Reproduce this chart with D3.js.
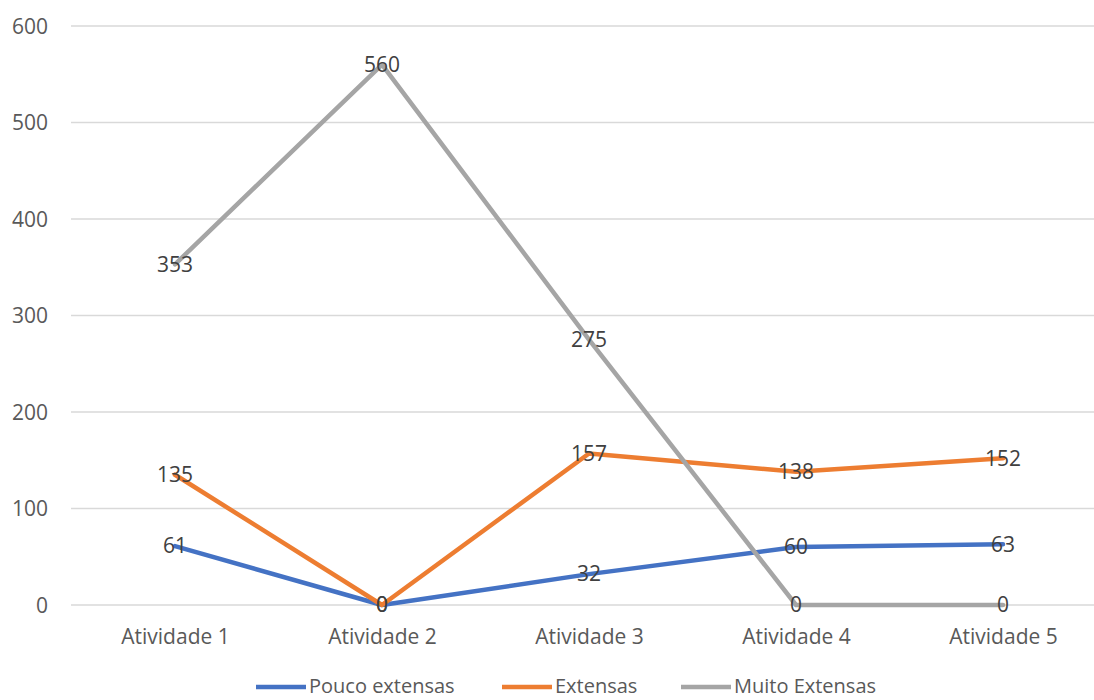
<!DOCTYPE html>
<html><head><meta charset="utf-8">
<script src="https://cdn.jsdelivr.net/npm/d3@7"></script>
<style>body{margin:0;background:#fff}svg{display:block}text{font-family:"Open Sans",sans-serif}</style>
</head><body><svg id="c" width="1094" height="700"></svg>
<script>
const categories = ["Atividade 1","Atividade 2","Atividade 3","Atividade 4","Atividade 5"];
const pouco = [61, 0, 32, 60, 63];
const extensas = [135, 0, 157, 138, 152];
const muito = [353, 560, 275, 0, 0];
const yTicks = [0,100,200,300,400,500,600];
const seriesNames = ["Pouco extensas","Extensas","Muito Extensas"];
const seriesColors = ["#4472C4","#ED7D31","#A5A5A5"];

const svg = d3.select("#c");
const x = d3.scalePoint().domain(categories).range([175,1003]);
const y = d3.scaleLinear().domain([0,600]).range([605,26]);

// gridlines
svg.append("g").selectAll("line").data(yTicks).join("line")
  .attr("x1",71).attr("x2",1094).attr("y1",d=>y(d)).attr("y2",d=>y(d))
  .attr("stroke","#d9d9d9").attr("stroke-width",1.3);

// y axis labels
const yAxis = svg.append("g").attr("transform","translate(48,0)")
  .call(d3.axisLeft(y).tickValues(yTicks).tickSize(0).tickPadding(0));
yAxis.select(".domain").remove();
yAxis.selectAll("text").attr("font-size",21).attr("fill","#595959").attr("font-family","Open Sans").attr("dy","0.35em");

// x axis labels
const xAxis = svg.append("g").attr("transform","translate(0,637)")
  .call(d3.axisBottom(x).tickSize(0).tickPadding(0));
xAxis.select(".domain").remove();
xAxis.selectAll("text").attr("font-size",21).attr("fill","#595959").attr("font-family","Open Sans").attr("dy","0.35em").attr("y",0);

const data = [pouco, extensas, muito];
const line = d3.line().x((d,i)=>x(categories[i])).y(d=>y(d));
data.forEach((s,k)=>{
  svg.append("path").datum(s).attr("d",line).attr("fill","none")
    .attr("stroke",seriesColors[k]).attr("stroke-width",4.5).attr("stroke-linejoin","round").attr("stroke-linecap","round");
});
data.forEach((s,k)=>{
  svg.append("g").selectAll("text").data(s).join("text")
    .attr("x",(d,i)=>x(categories[i])).attr("y",d=>y(d)).attr("dy","0.35em")
    .attr("text-anchor","middle").attr("font-size",21).attr("fill","#404040").text(d=>d);
});

// legend
const legendX = [256,502,681];
const lg = svg.append("g");
seriesNames.forEach((n,k)=>{
  lg.append("line").attr("x1",legendX[k]).attr("x2",legendX[k]+50).attr("y1",687).attr("y2",687)
    .attr("stroke",seriesColors[k]).attr("stroke-width",4.5);
  lg.append("text").attr("x",legendX[k]+53).attr("y",686).attr("dy","0.35em")
    .attr("font-size",20).attr("fill","#595959").text(n);
});
</script></body></html>
